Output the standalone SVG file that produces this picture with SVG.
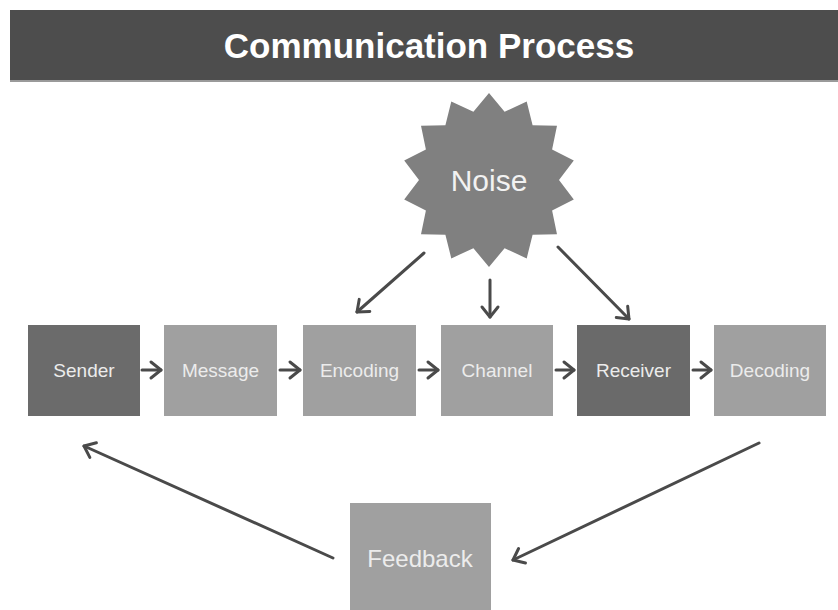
<svg xmlns="http://www.w3.org/2000/svg" width="838" height="610" viewBox="0 0 838 610">
  <style>
    .box { fill: #a0a0a0; }
    .box.dark { fill: #6b6b6b; }
    .lbl { font-family: "Liberation Sans", Arial, sans-serif; font-size: 19px; fill: #ececec; text-anchor: middle; }
    .edge { fill: none; stroke: #4a4a4a; stroke-width: 3; stroke-linecap: round; marker-end: url(#head); }
  </style>
  <defs>
    <marker id="head" markerUnits="userSpaceOnUse" markerWidth="24" markerHeight="24" viewBox="-14 -12 16 24" refX="0" refY="0" orient="auto">
      <path d="M-10,-8 L0,0 L-10,8" fill="none" stroke="#4a4a4a" stroke-width="3" stroke-linecap="round" stroke-linejoin="round"/>
    </marker>
  </defs>

  <rect width="838" height="610" fill="#ffffff"/>

  <!-- title bar -->
  <g id="title">
    <rect x="10" y="10" width="828" height="70" fill="#4d4d4d"/>
    <rect x="10" y="80" width="828" height="2" fill="#9a9a9a"/>
    <text x="429" y="58" font-family="'Liberation Sans', Arial, sans-serif" font-size="35" font-weight="bold" fill="#ffffff" text-anchor="middle">Communication Process</text>
  </g>

  <!-- starburst -->
  <g id="noise">
    <polygon fill="#808080" points="489,93 504.6,111.8 526.7,101.6 532.6,125.3 557,125.8 552.1,149.6 573.8,160.6 559,180 573.8,199.4 552.1,210.4 557,234.2 532.6,234.7 526.7,258.4 504.6,248.2 489,267 473.4,248.2 451.3,258.4 445.4,234.7 421,234.2 425.9,210.4 404.2,199.4 419,180 404.2,160.6 425.9,149.6 421,125.8 445.4,125.3 451.3,101.6 473.4,111.8"/>
    <text x="489" y="191" font-family="'Liberation Sans', Arial, sans-serif" font-size="30" fill="#f2f2f2" text-anchor="middle">Noise</text>
  </g>

  <g id="sender">
    <rect class="box dark" x="28" y="325" width="112" height="91"/>
    <text class="lbl" x="84" y="377">Sender</text>
  </g>
  <g id="message">
    <rect class="box" x="164" y="325" width="113" height="91"/>
    <text class="lbl" x="220.5" y="377">Message</text>
  </g>
  <g id="encoding">
    <rect class="box" x="303" y="325" width="113" height="91"/>
    <text class="lbl" x="359.5" y="377">Encoding</text>
  </g>
  <g id="channel">
    <rect class="box" x="441" y="325" width="112" height="91"/>
    <text class="lbl" x="497" y="377">Channel</text>
  </g>
  <g id="receiver">
    <rect class="box dark" x="577" y="325" width="113" height="91" style="fill:#6a6a6a"/>
    <text class="lbl" x="633.5" y="377">Receiver</text>
  </g>
  <g id="decoding">
    <rect class="box" x="714" y="325" width="112" height="91"/>
    <text class="lbl" x="770" y="377">Decoding</text>
  </g>
  <g id="feedback">
    <rect class="box" x="350" y="503" width="141" height="107"/>
    <text x="420" y="567" font-family="'Liberation Sans', Arial, sans-serif" font-size="24" fill="#ececec" text-anchor="middle">Feedback</text>
  </g>

  <!-- connectors -->
  <g id="connectors">
    <line class="edge" x1="142" y1="370" x2="161" y2="370"/>
    <line class="edge" x1="280" y1="370" x2="300" y2="370"/>
    <line class="edge" x1="419" y1="370" x2="438" y2="370"/>
    <line class="edge" x1="556" y1="370" x2="574" y2="370"/>
    <line class="edge" x1="693" y1="370" x2="711" y2="370"/>
    <line class="edge" x1="424" y1="253" x2="357" y2="312"/>
    <line class="edge" x1="490" y1="280" x2="490" y2="317"/>
    <line class="edge" x1="558" y1="247" x2="629" y2="319"/>
    <line class="edge" x1="333" y1="558" x2="84" y2="446"/>
    <line class="edge" x1="759" y1="443" x2="513" y2="560"/>
  </g>
</svg>
